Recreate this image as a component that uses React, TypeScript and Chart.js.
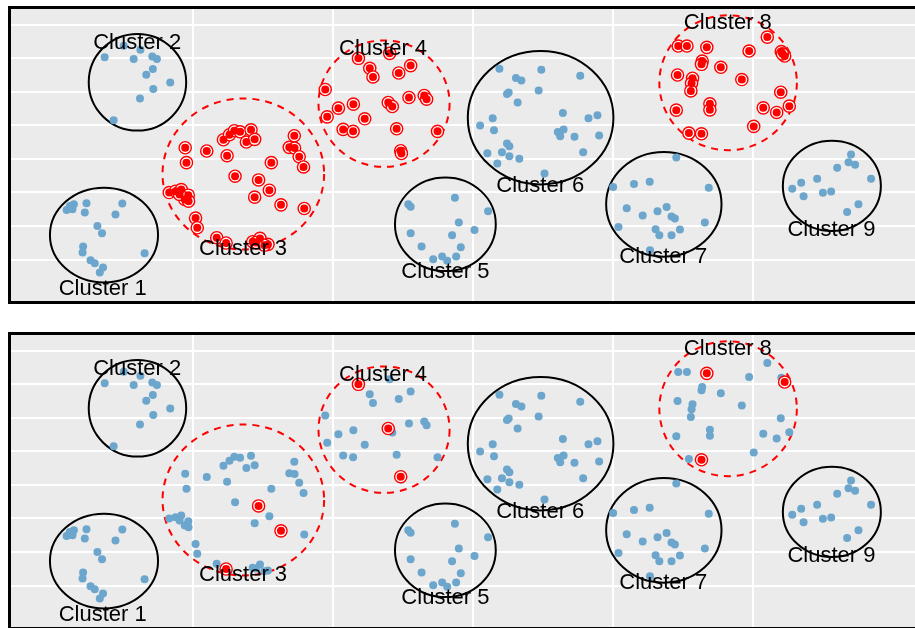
import React, { useEffect, useRef } from 'react';
import { Chart, registerables } from 'chart.js';

Chart.register(...registerables);

// Point data per cluster: [x, y] in grid units
const cluster1 = [[0.121,2.596],[0.098,2.477],[0.140,2.498],[0.150,2.647],[0.240,2.677],[0.228,2.400],[0.496,2.668],[0.447,2.341],[0.318,2.001],[0.351,1.784],[0.216,1.389],[0.212,1.210],[0.269,0.981],[0.299,0.892],[0.358,0.764],[0.335,0.616],[0.655,1.190]];
const cluster2 = [[0.370,7.039],[0.506,7.376],[0.625,7.257],[0.577,6.980],[0.710,7.057],[0.743,6.980],[0.714,6.683],[0.667,6.513],[0.838,6.284],[0.717,6.088],[0.622,5.808],[0.434,5.154]];
const cluster3 = [[0.945,4.336],[1.099,4.238],[1.244,4.098],[1.218,4.574],[1.261,4.723],[1.296,4.842],[1.337,4.812],[1.415,4.871],[1.382,4.506],[1.441,4.586],[1.724,4.693],[1.688,4.348],[1.726,4.327],[1.759,4.068],[0.954,3.890],[1.560,3.890],[1.790,3.762],[1.301,3.486],[1.469,3.375],[1.546,3.069],[1.441,2.861],[1.629,2.632],[1.795,2.522],[0.831,2.998],[0.876,3.039],[0.917,3.087],[0.942,2.790],[0.967,2.920],[0.969,2.742],[1.019,2.236],[1.031,1.948],[1.170,1.651],[1.237,1.493],[1.427,1.532],[1.479,1.630],[1.536,1.451],[1.451,1.508],[1.510,1.428],[0.905,2.944]];
const cluster4 = [[2.182,7.004],[2.405,7.152],[2.263,6.706],[2.286,6.448],[2.470,6.566],[2.555,6.787],[1.945,6.073],[2.039,5.517],[2.146,5.636],[1.959,5.258],[2.227,5.199],[2.395,5.686],[2.424,5.567],[2.543,5.835],[2.652,5.895],[2.669,5.784],[2.073,4.883],[2.144,4.824],[2.455,4.901],[2.747,4.824],[2.484,4.247],[2.489,4.164]];
const cluster5 = [[2.871,2.846],[2.538,2.647],[2.555,2.578],[3.108,2.439],[2.899,2.103],[3.011,1.883],[2.555,1.784],[2.851,1.725],[2.633,1.389],[2.913,1.368],[2.880,1.091],[2.716,1.011],[2.780,1.091],[2.816,0.961]];
const cluster6 = [[3.189,6.692],[3.488,6.662],[3.307,6.415],[3.346,6.344],[3.766,6.483],[3.243,5.939],[3.255,5.987],[3.469,6.046],[3.319,5.689],[3.642,5.374],[3.141,5.213],[3.051,4.996],[3.150,4.857],[3.825,5.213],[3.889,5.303],[3.606,4.809],[3.647,4.877],[3.623,4.678],[3.725,4.660],[3.901,4.699],[3.243,4.461],[3.260,4.381],[3.103,4.172],[3.207,4.202],[3.260,4.083],[3.331,4.006],[3.787,4.202],[3.174,3.866],[3.511,3.569]];
const cluster7 = [[4.452,4.045],[4.001,3.161],[4.150,3.251],[4.262,3.322],[4.684,3.144],[4.098,2.528],[4.212,2.311],[4.318,2.439],[4.383,2.567],[4.418,2.281],[4.442,2.222],[4.039,1.972],[4.304,1.903],[4.331,1.725],[4.418,1.725],[4.478,1.894],[4.656,2.103],[4.264,1.279]];
const cluster8 = [[4.466,7.370],[4.528,7.370],[4.670,7.331],[5.102,7.637],[4.972,7.221],[5.202,7.203],[5.226,7.072],[4.637,6.923],[4.632,6.825],[4.770,6.736],[4.461,6.507],[4.568,6.409],[4.561,6.260],[4.556,6.031],[4.920,6.370],[5.198,5.993],[4.452,5.457],[4.692,5.645],[4.692,5.466],[5.073,5.526],[5.169,5.389],[5.259,5.576],[5.005,4.972],[4.542,4.773],[4.632,4.752],[5.210,7.138]];
const cluster9 = [[5.700,4.134],[5.682,3.905],[5.729,3.827],[5.601,3.738],[5.458,3.411],[5.344,3.292],[5.280,3.114],[5.361,2.885],[5.499,2.995],[5.558,3.033],[5.843,3.411],[5.753,2.647],[5.672,2.418]];

const clusters = [cluster1, cluster2, cluster3, cluster4, cluster5, cluster6, cluster7, cluster8, cluster9];
const clusterNames = ['Cluster 1','Cluster 2','Cluster 3','Cluster 4','Cluster 5','Cluster 6','Cluster 7','Cluster 8','Cluster 9'];

// Enclosing ellipses per cluster (grid units)
const circleCX = [0.365,0.604,1.360,2.365,2.803,3.483,4.363,4.822,5.563];
const circleCY = [1.731,6.290,3.554,5.651,2.052,5.234,2.647,6.275,3.197];
const circleRX = [0.386,0.348,0.577,0.468,0.360,0.520,0.412,0.491,0.350];
const circleRY = [1.413,1.442,2.254,1.888,1.398,1.992,1.561,2.013,1.347];
const labelX = [0.356,0.602,1.358,2.358,2.803,3.481,4.359,4.820,5.560];
const labelY = [0.119,7.465,1.309,7.286,0.616,3.191,1.071,8.074,1.888];

// Clusters that are sampled (dashed red circle)
const sampledClusters = [3, 4, 8];
// Top panel: all points in sampled clusters highlighted
const topHighlightClusters = [3, 4, 8];
// Bottom panel: [cluster, point index (1-based)] highlighted
const bottomHighlights = [[3,19],[3,22],[3,33],[4,1],[4,12],[4,21],[8,3],[8,7],[8,25]];

const X_MIN = -0.3098;
const X_MAX = 6.246;
const Y_MIN = -0.2825;
const Y_MAX = 8.5205;

const BLUE = '#6CA6CD';
const RED = '#FF0000';

const panelPlugin = {
  id: 'panelDecor',
  beforeDraw(chart: any) {
    const { ctx, chartArea: a } = chart;
    ctx.save();
    ctx.fillStyle = '#EBEBEB';
    ctx.fillRect(a.left, a.top, a.right - a.left, a.bottom - a.top);
    ctx.restore();
  },
  beforeDatasetsDraw(chart: any) {
    const { ctx, chartArea: a, scales } = chart;
    const xs = scales.x, ys = scales.y;
    ctx.save();
    ctx.beginPath();
    ctx.rect(a.left, a.top, a.right - a.left, a.bottom - a.top);
    ctx.clip();
    for (let i = 0; i < clusters.length; i++) {
      const cx = xs.getPixelForValue(circleCX[i]);
      const cy = ys.getPixelForValue(circleCY[i]);
      const rx = Math.abs(xs.getPixelForValue(circleCX[i] + circleRX[i]) - cx);
      const ry = Math.abs(ys.getPixelForValue(circleCY[i] + circleRY[i]) - cy);
      const dashed = sampledClusters.includes(i + 1);
      ctx.beginPath();
      ctx.ellipse(cx, cy, rx, ry, 0, 0, Math.PI * 2);
      ctx.lineWidth = 2;
      ctx.strokeStyle = dashed ? RED : '#000000';
      ctx.setLineDash(dashed ? [7, 6] : []);
      ctx.stroke();
    }
    ctx.restore();
  },
  afterDraw(chart: any) {
    const { ctx, chartArea: a, scales } = chart;
    const xs = scales.x, ys = scales.y;
    ctx.save();
    ctx.beginPath();
    ctx.rect(a.left, a.top, a.right - a.left, a.bottom - a.top);
    ctx.clip();
    ctx.font = '22px "Liberation Sans", Arial, sans-serif';
    ctx.fillStyle = '#000000';
    ctx.textAlign = 'center';
    ctx.textBaseline = 'middle';
    for (let i = 0; i < clusterNames.length; i++) {
      ctx.fillText(clusterNames[i], xs.getPixelForValue(labelX[i]), ys.getPixelForValue(labelY[i]));
    }
    ctx.restore();
    ctx.save();
    ctx.lineWidth = 3;
    ctx.strokeStyle = '#000000';
    ctx.strokeRect(a.left, a.top, a.right - a.left, a.bottom - a.top);
    ctx.restore();
  },
};

const keepIntegers = (axis: any) => {
  axis.ticks = axis.ticks.filter((t: any) => Math.abs(t.value - Math.round(t.value)) < 1e-6);
};

function Panel({ top, highlights }: { top: number; highlights: number[][] }) {
  const ref = useRef<HTMLCanvasElement>(null);
  useEffect(() => {
    if (!ref.current) return;
    const all = clusters.flat().map(([x, y]) => ({ x, y }));
    const hl = highlights.map(([c, i]) => ({ x: clusters[c - 1][i - 1][0], y: clusters[c - 1][i - 1][1] }));
    const chart = new Chart(ref.current, {
      type: 'scatter',
      data: {
        datasets: [
          { data: hl, order: 1, pointRadius: 4, pointHoverRadius: 4, backgroundColor: RED, borderWidth: 0 },
          { data: hl, order: 2, pointRadius: 6.1, pointHoverRadius: 6.1, backgroundColor: '#FFFFFF', borderColor: RED, borderWidth: 1.4 },
          { data: all, order: 3, pointRadius: 4, pointHoverRadius: 4, backgroundColor: BLUE, borderWidth: 0 },
        ],
      },
      options: {
        animation: false,
        responsive: false,
        devicePixelRatio: 1,
        events: [],
        layout: { padding: { left: 9.5, top: 7.5, right: 5, bottom: 6.5 } },
        plugins: { legend: { display: false }, tooltip: { enabled: false } },
        scales: {
          x: {
            type: 'linear', min: X_MIN, max: X_MAX,
            ticks: { display: false, stepSize: 1 },
            grid: { color: '#FFFFFF', lineWidth: 2, drawTicks: false },
            border: { display: false },
            afterBuildTicks: keepIntegers,
            afterFit: (s: any) => { s.height = 0; },
          },
          y: {
            type: 'linear', min: Y_MIN, max: Y_MAX,
            ticks: { display: false, stepSize: 1 },
            grid: { color: '#FFFFFF', lineWidth: 2, drawTicks: false },
            border: { display: false },
            afterBuildTicks: keepIntegers,
            afterFit: (s: any) => { s.width = 0; },
          },
        },
      },
      plugins: [panelPlugin],
    } as any);
    return () => chart.destroy();
  }, []);
  return (
    <canvas
      ref={ref}
      width={935}
      height={310}
      style={{ position: 'absolute', left: 0, top, width: 935, height: 310, display: 'block' }}
    />
  );
}

const topHighlights: number[][] = [];
topHighlightClusters.forEach((c) => clusters[c - 1].forEach((_, i) => topHighlights.push([c, i + 1])));

export default function App() {
  return (
    <div style={{ position: 'fixed', left: 0, top: 0, width: 915, height: 628, overflow: 'hidden', background: '#FFFFFF' }}>
      <Panel top={0} highlights={topHighlights} />
      <Panel top={326} highlights={bottomHighlights} />
    </div>
  );
}
